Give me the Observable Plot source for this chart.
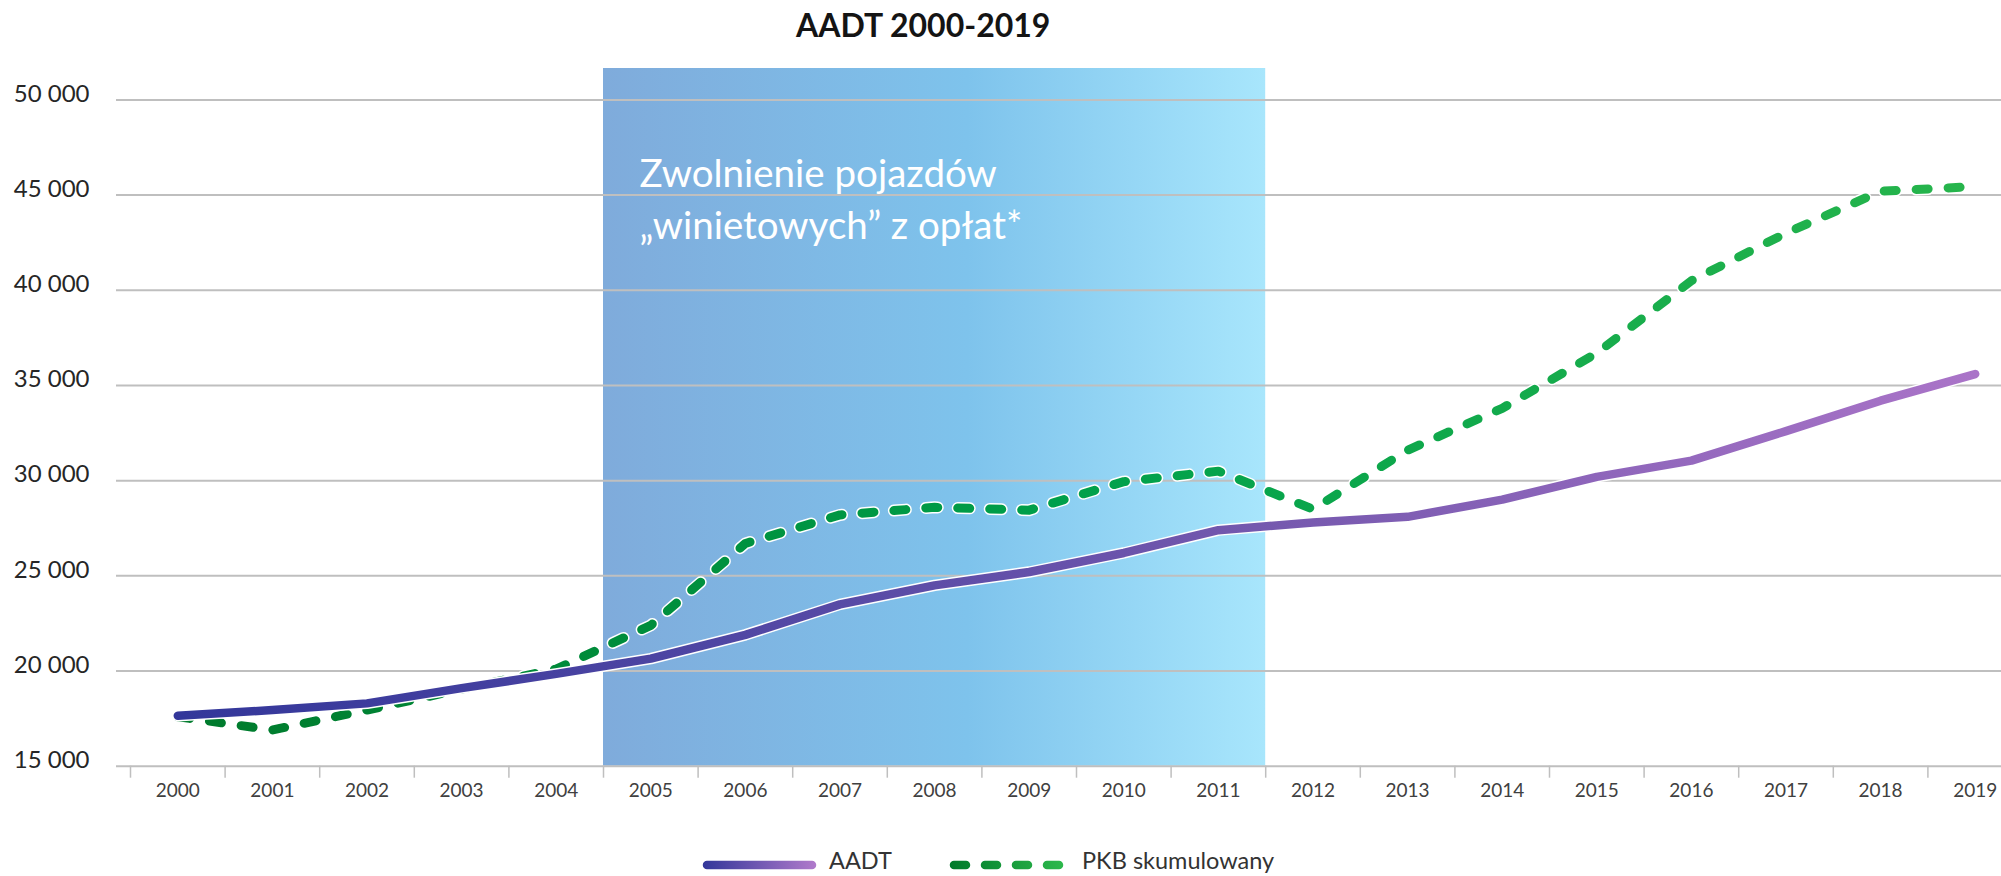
<!DOCTYPE html>
<html>
<head>
<meta charset="utf-8">
<script src="https://cdn.jsdelivr.net/npm/d3@7"></script>
<script src="https://cdn.jsdelivr.net/npm/@observablehq/plot@0.6"></script>
<style>
  html, body { margin: 0; padding: 0; background: #fff; }
  #wrap { position: relative; width: 2001px; height: 876px; overflow: hidden; font-family: Lato, "Open Sans", sans-serif; }
  #title { position: absolute; left: 796px; top: 6px; font-size: 32px; line-height: 1.2; font-weight: 700; color: #141414; white-space: nowrap; }
  #chart { position: absolute; left: 0; top: 56px; }
  .lg-sw { position: absolute; top: 857px; }
  .lg-tx { position: absolute; top: 847px; font-size: 23.5px; line-height: 1.15; color: #333; white-space: nowrap; }
</style>
</head>
<body>
<div id="wrap">
  <div id="title"></div>
  <div id="chart"></div>
</div>
<script>
// ---- data ----
const title = "AADT 2000-2019";
const years = [2000, 2001, 2002, 2003, 2004, 2005, 2006, 2007, 2008, 2009,
               2010, 2011, 2012, 2013, 2014, 2015, 2016, 2017, 2018, 2019];
const aadt = [17650, 17950, 18300, 19100, 19850, 20650, 21900, 23500, 24500, 25200,
              26200, 27400, 27800, 28100, 29000, 30200, 31050, 32600, 34200, 35600];
const pkb  = [17600, 16900, 17950, 19050, 20100, 22400, 26700, 28200, 28600, 28450,
              29950, 30500, 28500, 31600, 33800, 36700, 40500, 43000, 45200, 45450];
const yTicks = [15000, 20000, 25000, 30000, 35000, 40000, 45000, 50000];
const seriesNames = ["AADT", "PKB skumulowany"];
const exemptionPeriod = [{from: 2005, to: 2011, label: "Zwolnienie pojazdów\n„winietowych” z opłat*"}];

// ---- build ----
const rows = years.map((year, i) => ({year, aadt: aadt[i], pkb: pkb[i]}));
const bounds = years.map(y => y - 0.5);
const fmt = d => d3.format(",")(d).replace(/,/g, " ");

document.getElementById("title").textContent = title;

const grid = "#bfbfbf";
const plot = Plot.plot({
  width: 2001,
  height: 770,
  marginLeft: 116,
  marginRight: 0,
  marginTop: 12,
  marginBottom: 60.3,
  style: {fontFamily: "Lato, 'Open Sans', sans-serif", background: "transparent", overflow: "visible"},
  x: {domain: [years[0] - 0.5, years[years.length - 1] + 0.5], range: [130, 2022], axis: null},
  y: {domain: [15000, 51650], axis: null},
  marks: [
    Plot.rect(exemptionPeriod, {x1: d => d.from - 0.5, x2: d => d.to + 0.5, fill: "url(#bandGrad)"}),
    Plot.ruleY(yTicks, {y: d => d, stroke: grid, strokeWidth: 2}),
    Plot.text(exemptionPeriod, {x: d => d.from - 0.5, text: "label", frameAnchor: "top", textAnchor: "start",
      lineAnchor: "top", dx: 36, dy: 82, fontSize: 38.5, lineHeight: 1.34, fill: "white"}),
    Plot.ruleX(bounds, {x: d => d, y1: 15000, y2: 15000, insetBottom: -12, stroke: grid, strokeWidth: 1.5}),
    Plot.text(years, {x: d => d, text: d => String(d), frameAnchor: "bottom", dy: 30.3, fontSize: 19, fill: "#404040"}),
    Plot.text(yTicks, {y: d => d, text: fmt, frameAnchor: "left", textAnchor: "end", dx: -27, dy: -6, fontSize: 24, fill: "#262626"}),
    Plot.line(rows, {x: "year", y: "pkb", stroke: "white", strokeWidth: 12, strokeDasharray: "12 20", strokeLinecap: "round", strokeLinejoin: "round"}),
    Plot.line(rows, {x: "year", y: "pkb", stroke: "url(#pkbGrad)", strokeWidth: 9, strokeDasharray: "12 20", strokeLinecap: "round", strokeLinejoin: "round"}),
    Plot.line(rows, {x: "year", y: "aadt", stroke: "white", strokeWidth: 11.5, strokeLinecap: "round", strokeLinejoin: "round"}),
    Plot.line(rows, {x: "year", y: "aadt", stroke: "url(#aadtGrad)", strokeWidth: 8.5, strokeLinecap: "round", strokeLinejoin: "round"})
  ]
});

function addGrad(svgSel, id, stops, coords) {
  let defs = svgSel.select("defs");
  if (defs.empty()) defs = svgSel.insert("defs", ":first-child");
  const g = defs.append("linearGradient").attr("id", id);
  if (coords) {
    g.attr("gradientUnits", "userSpaceOnUse").attr("x1", coords[0]).attr("x2", coords[1]).attr("y1", 0).attr("y2", 0);
  } else {
    g.attr("x1", 0).attr("x2", 1).attr("y1", 0).attr("y2", 0);
  }
  stops.forEach(([o, c]) => g.append("stop").attr("offset", o).attr("stop-color", c));
}
const svgSel = d3.select(plot);
addGrad(svgSel, "bandGrad", [[0, "#7fabdb"], [0.55, "#7ec3ec"], [1, "#a8e6fc"]]);
addGrad(svgSel, "aadtGrad", [[0, "#33379a"], [0.3, "#4f46a3"], [0.6, "#7458ae"], [1, "#aa74c8"]]);
addGrad(svgSel, "pkbGrad", [[0, "#007a2c"], [0.5, "#00a04b"], [1, "#27b54c"]]);
document.getElementById("chart").appendChild(plot);

// ---- legend (below the plot) ----
const wrap = d3.select("#wrap");
const sw1 = wrap.append("svg").attr("class", "lg-sw").style("left", "699px").attr("width", 121).attr("height", 16);
addGrad(sw1, "lgA", [[0, "#33379a"], [1, "#b07acb"]], [4, 117]);
sw1.append("line").attr("x1", 8).attr("x2", 113).attr("y1", 8).attr("y2", 8)
  .attr("stroke", "url(#lgA)").attr("stroke-width", 8.5).attr("stroke-linecap", "round");
wrap.append("div").attr("class", "lg-tx").style("left", "829px").text(seriesNames[0]);

const sw2 = wrap.append("svg").attr("class", "lg-sw").style("left", "946px").attr("width", 121).attr("height", 16);
addGrad(sw2, "lgP", [[0, "#007a2a"], [1, "#2db84c"]], [4, 117]);
sw2.append("line").attr("x1", 8).attr("x2", 113).attr("y1", 8).attr("y2", 8)
  .attr("stroke", "url(#lgP)").attr("stroke-width", 8.5).attr("stroke-linecap", "round")
  .attr("stroke-dasharray", "12 19");
wrap.append("div").attr("class", "lg-tx").style("left", "1082px").text(seriesNames[1]);
</script>
</body>
</html>
